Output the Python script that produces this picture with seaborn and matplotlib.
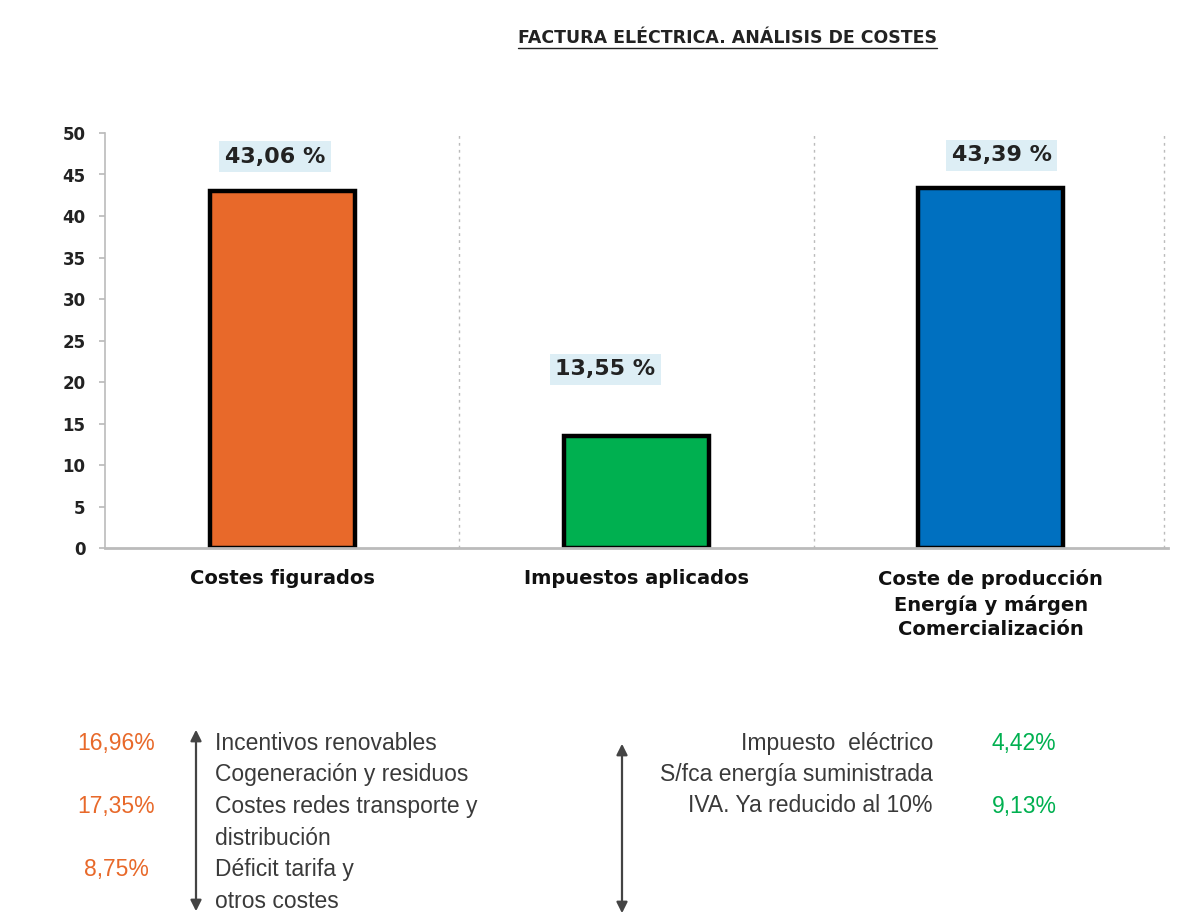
import matplotlib
matplotlib.use("Agg")
import matplotlib.pyplot as plt
import seaborn as sns
import pandas as pd
from matplotlib.patches import FancyArrowPatch
from matplotlib.lines import Line2D

# ---- data ----
categories = ["Costes figurados", "Impuestos aplicados",
              "Coste de producción\nEnergía y márgen\nComercialización"]
values = [43.06, 13.55, 43.39]
value_labels = ["43,06 %", "13,55 %", "43,39 %"]
bar_colors = ["#E8692A", "#00B050", "#0070C0"]
yticks = [0, 5, 10, 15, 20, 25, 30, 35, 40, 45, 50]

left_pcts = ["16,96%", "17,35%", "8,75%"]
left_lines = ["Incentivos renovables", "Cogeneración y residuos",
              "Costes redes transporte y", "distribución",
              "Déficit tarifa y", "otros costes"]
right_lines = ["Impuesto  eléctrico", "S/fca energía suministrada",
               "IVA. Ya reducido al 10%"]
right_pcts = ["4,42%", "9,13%"]
title = "FACTURA ELÉCTRICA. ANÁLISIS DE COSTES"

df = pd.DataFrame({"cat": categories, "val": values})

sns.set_theme(style="white")
plt.rcParams["font.family"] = ["DejaVu Sans"]

W, H = 1178, 921
fig = plt.figure(figsize=(W / 100, H / 100), dpi=100)
fig.patch.set_facecolor("white")

def fx(px):
    return px / W

def fy(py):
    return 1 - py / H

ax = fig.add_axes([fx(105), fy(548), fx(1168) - fx(105), fy(133) - fy(548)])
sns.barplot(data=df, x="cat", y="val", hue="cat", palette=bar_colors,
            width=0.41, edgecolor="black", linewidth=3.2, legend=False,
            ax=ax, saturation=1)
ax.set_xlim(-0.5, 2.5)
ax.set_ylim(0, 50)
ax.set_yticks(yticks)
ax.set_yticklabels([str(t) for t in yticks], fontsize=12, fontweight="bold",
                   color="#222222")
ax.set_xlabel("")
ax.set_ylabel("")
ax.set_xticks(range(len(categories)))
ax.set_xticklabels(categories, fontsize=14, fontweight="bold",
                   color="#111111", linespacing=1.36)
ax.tick_params(axis="x", length=0, pad=15)
ax.tick_params(axis="y", length=4, color="#BBBBBB", pad=10, left=True)

ax.set_xticks([0.5, 1.5, 2.49], minor=True)
ax.tick_params(axis="x", which="minor", length=0)
ax.grid(False)
ax.grid(True, axis="x", which="minor", color="#BBBBBB",
        linestyle=(0, (2, 3)), linewidth=1)

for s in ["top", "right"]:
    ax.spines[s].set_visible(False)
ax.spines["left"].set_color("#BBBBBB")
ax.spines["left"].set_linewidth(1.2)
ax.spines["bottom"].set_color("#BBBBBB")
ax.spines["bottom"].set_linewidth(2)

label_offsets = [4.1, 8.0, 3.9]
label_dx = [-7, -31, 11]
for i, (v, lab) in enumerate(zip(values, value_labels)):
    ax.annotate(lab, xy=(i, v + label_offsets[i]), xytext=(label_dx[i], 0),
                textcoords="offset pixels", ha="center", va="center",
                fontsize=16, fontweight="bold", color="#222222",
                bbox=dict(boxstyle="square,pad=0.25", facecolor="#DDEEF5",
                          edgecolor="none"))

# title with underline
t = fig.text(fx(727), fy(38), title, ha="center", va="center",
             fontsize=12.5, fontweight="bold", color="#222222")
fig.canvas.draw()
bb = t.get_window_extent()
fig.add_artist(Line2D([bb.x0 / W, bb.x1 / W], [(bb.y0 - 1) / H, (bb.y0 - 1) / H],
                      transform=fig.transFigure, color="#222222", lw=1))

# bottom annotations
txt_font = ["Liberation Sans", "DejaVu Sans"]
fs = 16.5
line_y = [743, 774, 806, 838, 869, 901]
for s, y in zip(left_lines, line_y):
    fig.text(fx(215), fy(y), s, ha="left", va="center", fontsize=fs,
             color="#3A3A3A", family=txt_font)
for s, y in zip(left_pcts, [743, 806, 869]):
    fig.text(fx(116), fy(y), s, ha="center", va="center", fontsize=fs,
             color="#E8692A", family=txt_font)
for s, y in zip(right_lines, line_y[:3]):
    fig.text(fx(933), fy(y), s, ha="right", va="center", fontsize=fs,
             color="#3A3A3A", family=txt_font)
for s, y in zip(right_pcts, [743, 806]):
    fig.text(fx(1024), fy(y), s, ha="center", va="center", fontsize=fs,
             color="#00B050", family=txt_font)

for xa, y0, y1 in [(196, 727, 914), (622, 741, 916)]:
    arr = FancyArrowPatch((fx(xa), fy(y0)), (fx(xa), fy(y1)),
                          transform=fig.transFigure,
                          arrowstyle="<|-|>,head_length=5,head_width=2.5",
                          color="#444444", lw=1.6, mutation_scale=1.3)
    fig.add_artist(arr)

fig.savefig("out.png", dpi=100, facecolor="white")
